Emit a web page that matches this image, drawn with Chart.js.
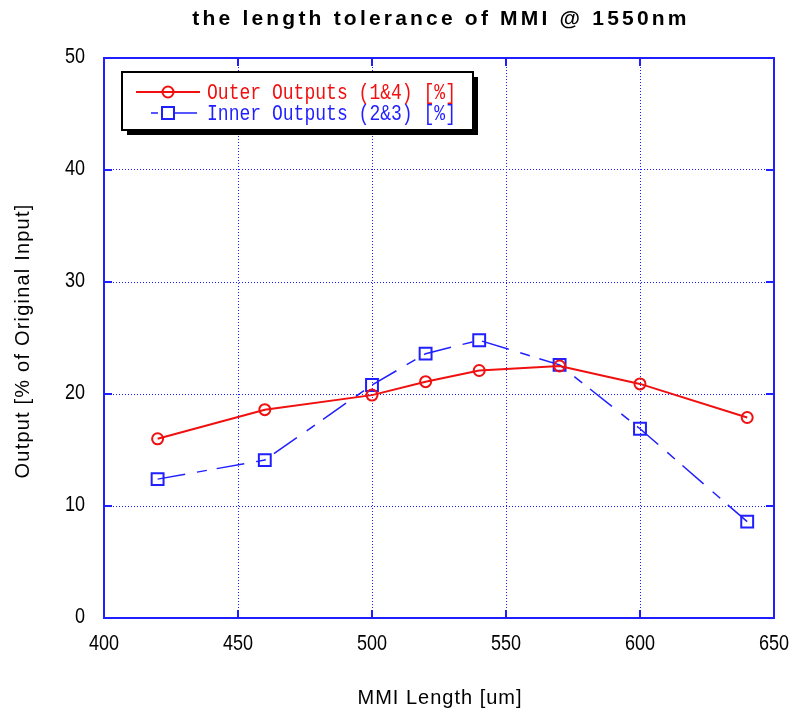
<!DOCTYPE html>
<html>
<head>
<meta charset="utf-8">
<script src="https://cdn.jsdelivr.net/npm/chart.js@4.4.1/dist/chart.umd.min.js"></script>
<style>
  html, body { margin: 0; padding: 0; background: #fff; }
  #wrap { width: 792px; height: 715px; }
</style>
</head>
<body>
<div id="wrap"><canvas id="c"></canvas></div>
<script>
// ---- data ----
const lengths = [420, 460, 500, 520, 540, 570, 600, 640];
const outerOutputs = [16.0, 18.6, 19.9, 21.1, 22.1, 22.5, 20.9, 17.9];
const innerOutputs = [12.4, 14.1, 20.8, 23.6, 24.8, 22.6, 16.9, 8.6];
const xTicks = [400, 450, 500, 550, 600, 650];
const yTicks = [0, 10, 20, 30, 40, 50];
const seriesLabels = ['Outer Outputs (1&4) [%]', 'Inner Outputs (2&3) [%]'];
const chartTitle = 'the length tolerance of MMI @ 1550nm';
const xTitle = 'MMI Length [um]';
const yTitle = 'Output [% of Original Input]';

const BLUE = '#1f1fff';
const GRID = '#1a1aff';
const RED = '#f01010';
const SANS = "'Liberation Sans', Arial, sans-serif";

// text squeezed horizontally (the original uses a condensed face)
function squeezed(ctx, text, x, y, align, sx) {
  ctx.save();
  ctx.translate(x, y);
  ctx.scale(sx, 1);
  ctx.textAlign = align;
  ctx.textBaseline = 'middle';
  ctx.fillText(text, 0, 0);
  ctx.restore();
}

// spaced-out bold title on top
const titlePlugin = {
  id: 'spacedTitle',
  afterDraw(chart) {
    const { ctx, chartArea } = chart;
    ctx.save();
    ctx.font = 'bold 21px ' + SANS;
    ctx.letterSpacing = '3.2px';
    ctx.textAlign = 'center';
    ctx.textBaseline = 'middle';
    ctx.fillStyle = '#000';
    ctx.fillText(chartTitle, (chartArea.left + chartArea.right) / 2 + 2, 19);
    ctx.restore();
  }
};

// tick labels and axis titles
const axisTextPlugin = {
  id: 'axisText',
  afterDraw(chart) {
    const { ctx, chartArea: a, scales } = chart;
    ctx.save();
    ctx.fillStyle = '#000';
    ctx.font = '22px ' + SANS;
    xTicks.forEach(v => squeezed(ctx, String(v), scales.x.getPixelForValue(v), 644, 'center', 0.82));
    yTicks.forEach(v => squeezed(ctx, String(v), 85, scales.y.getPixelForValue(v) - 1, 'right', 0.82));

    ctx.font = '20px ' + SANS;
    ctx.letterSpacing = '1px';
    ctx.textAlign = 'center';
    ctx.textBaseline = 'middle';
    ctx.fillText(xTitle, (a.left + a.right) / 2 + 1, 698);
    ctx.translate(23, (a.top + a.bottom) / 2 + 3);
    ctx.rotate(-Math.PI / 2);
    ctx.letterSpacing = '1.2px';
    ctx.fillText(yTitle, 0, 0);
    ctx.restore();
  }
};

// box border + inward tick marks on all four sides
const framePlugin = {
  id: 'frame',
  afterDatasetsDraw(chart) {
    const { ctx, chartArea: a, scales } = chart;
    const len = 8;
    ctx.save();
    ctx.strokeStyle = BLUE;
    ctx.lineWidth = 2;
    ctx.strokeRect(a.left, a.top, a.right - a.left, a.bottom - a.top);
    ctx.beginPath();
    xTicks.forEach(v => {
      const x = scales.x.getPixelForValue(v);
      ctx.moveTo(x, a.bottom); ctx.lineTo(x, a.bottom - len);
      ctx.moveTo(x, a.top); ctx.lineTo(x, a.top + len);
    });
    yTicks.forEach(v => {
      const y = scales.y.getPixelForValue(v);
      ctx.moveTo(a.left, y); ctx.lineTo(a.left + len, y);
      ctx.moveTo(a.right, y); ctx.lineTo(a.right - len, y);
    });
    ctx.stroke();
    ctx.restore();
  }
};

// boxed legend with drop shadow, top-left inside the plot
const boxLegendPlugin = {
  id: 'boxLegend',
  afterDraw(chart) {
    const { ctx } = chart;
    const bx = 122, by = 72, bw = 351, bh = 58;
    ctx.save();
    ctx.fillStyle = '#000';
    ctx.fillRect(bx + 5, by + 5, bw, bh);
    ctx.fillStyle = '#fff';
    ctx.fillRect(bx, by, bw, bh);
    ctx.strokeStyle = '#000';
    ctx.lineWidth = 2;
    ctx.strokeRect(bx, by, bw, bh);

    const rows = [92, 113];
    chart.data.datasets.forEach((ds, i) => {
      const y = rows[i];
      ctx.strokeStyle = ds.borderColor;
      ctx.lineWidth = ds.borderWidth;
      ctx.beginPath();
      if (i === 0) {
        ctx.moveTo(136, y); ctx.lineTo(200, y);
      } else {
        ctx.moveTo(151, y); ctx.lineTo(158, y);
        ctx.moveTo(174, y); ctx.lineTo(197, y);
      }
      ctx.stroke();
      ctx.lineWidth = ds.pointBorderWidth;
      ctx.beginPath();
      if (ds.pointStyle === 'circle') {
        ctx.arc(168, y, 5.5, 0, Math.PI * 2);
      } else {
        ctx.rect(162, y - 6, 12, 12);
      }
      ctx.stroke();

      ctx.fillStyle = ds.borderColor;
      ctx.font = "22px 'Liberation Mono', 'DejaVu Sans Mono', monospace";
      squeezed(ctx, ds.label, 207, y + 1, 'left', 0.82);
    });
    ctx.restore();
  }
};

const toPoints = (xs, ys) => xs.map((x, i) => ({ x, y: ys[i] }));
const noPad = s => { s.paddingLeft = 0; s.paddingRight = 0; s.paddingTop = 0; s.paddingBottom = 0; };

new Chart(document.getElementById('c'), {
  type: 'line',
  data: {
    datasets: [
      {
        label: seriesLabels[0],
        data: toPoints(lengths, outerOutputs),
        borderColor: RED,
        borderWidth: 2,
        pointStyle: 'circle',
        pointRadius: 5.5,
        pointBorderWidth: 2,
        pointBorderColor: RED,
        pointBackgroundColor: 'rgba(0,0,0,0)',
        fill: false,
        tension: 0,
      },
      {
        label: seriesLabels[1],
        data: toPoints(lengths, innerOutputs),
        borderColor: BLUE,
        borderWidth: 1.5,
        borderDash: [28, 12, 10, 10],
        pointStyle: 'rect',
        pointRadius: 8.4,
        pointBorderWidth: 2,
        pointBorderColor: BLUE,
        pointBackgroundColor: 'rgba(0,0,0,0)',
        fill: false,
        tension: 0,
      }
    ]
  },
  options: {
    responsive: true,
    maintainAspectRatio: false,
    animation: false,
    layout: { padding: { top: 58, right: 18, left: 0, bottom: 0 } },
    plugins: {
      legend: { display: false },
      title: { display: false },
      tooltip: { enabled: false },
    },
    scales: {
      x: {
        type: 'linear',
        min: 400,
        max: 650,
        afterBuildTicks: s => { s.ticks = xTicks.map(v => ({ value: v })); },
        afterFit: s => { s.height = 97; noPad(s); },
        grid: { color: GRID, lineWidth: 1, drawTicks: false },
        border: { display: false, dash: [1, 2] },
        ticks: { display: false },
      },
      y: {
        type: 'linear',
        min: 0,
        max: 50,
        afterBuildTicks: s => { s.ticks = yTicks.map(v => ({ value: v })); },
        afterFit: s => { s.width = 104; noPad(s); },
        grid: { color: GRID, lineWidth: 1, drawTicks: false },
        border: { display: false, dash: [1, 2] },
        ticks: { display: false },
      },
    },
  },
  plugins: [titlePlugin, framePlugin, axisTextPlugin, boxLegendPlugin],
});
</script>
</body>
</html>
